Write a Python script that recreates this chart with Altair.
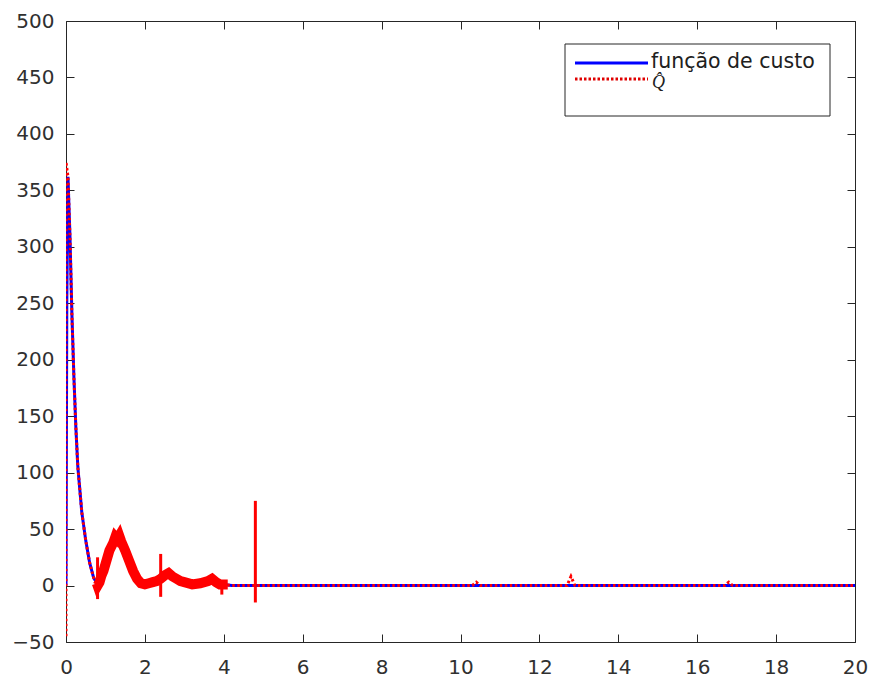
import altair as alt
import pandas as pd

# ---- data ----
blue_x = [0, 0.02, 0.05, 0.1, 0.15, 0.2, 0.25, 0.3, 0.4, 0.5, 0.6, 0.7, 0.8, 0.9, 1.0,
          1.1, 1.2, 1.3, 1.4, 1.5, 1.6, 1.7, 1.8, 1.9, 2.0, 2.2, 2.4, 2.6, 2.8, 3.0,
          3.2, 3.4, 3.6, 3.8, 4.0, 4.2, 6, 8, 10, 12, 14, 16, 18, 20]
blue_y = [0, 250, 362, 310, 240, 185, 140, 105, 65, 40, 20, 7, 1, 4, 15,
          27, 36, 40, 38, 31, 22, 13, 6, 2, 0, 1, 4, 8, 6, 3,
          1, 3, 5, 3, 1, 0, 0, 0, 0, 0, 0, 0, 0, 0]

red_x = [0, 0, 0.02, 0.05, 0.1, 0.15, 0.2, 0.25, 0.3, 0.4, 0.5, 0.6, 0.7, 0.8, 0.9, 1.0,
         1.1, 1.2, 1.3, 1.4, 1.5, 1.6, 1.7, 1.8, 1.9, 2.0, 2.2, 2.4, 2.6, 2.8, 3.0,
         3.2, 3.4, 3.6, 3.8, 4.0, 4.2, 6, 8, 10.3, 10.4, 10.5, 12.7, 12.8, 12.9,
         16.7, 16.8, 16.9, 20]
red_y = [-45, 375, 370, 362, 310, 240, 185, 140, 105, 65, 40, 20, 7, 1, 4, 15,
         27, 36, 40, 38, 31, 22, 13, 6, 2, 0, 1, 4, 8, 6, 3,
         1, 3, 5, 3, 1, 0, 0, 0, 0, 3, 0, 0, 8, 0,
         0, 3, 0, 0]

noise_x = [0.78, 0.8, 0.85, 0.9, 0.95, 1.0, 1.1, 1.2, 1.25, 1.3, 1.35, 1.4, 1.5, 1.6,
           1.7, 1.8, 1.9, 2.0, 2.1, 2.2, 2.3, 2.4, 2.5, 2.6, 2.7, 2.8, 2.9, 3.0,
           3.2, 3.4, 3.6, 3.7, 3.8, 3.9, 4.0, 4.1]
noise_y = [2, 0, 3, 9, 13, 19, 31, 38, 43, 41, 44, 39, 31, 22,
           13, 6, 2, 1, 2, 3, 4, 6, 9, 11, 8, 6, 4, 3,
           1, 2, 4, 6, 3, 1, 1, 1]

spike_x = [0.8, 2.4, 3.95, 4.8]
spike_lo = [-12, -10, -8, -15]
spike_hi = [25, 28, 3, 75]

x_ticks = list(range(0, 21, 2))
y_ticks = list(range(-50, 501, 50))

legend_labels = ["função de custo", "Q\u0302"]

blue_df = pd.DataFrame({"x": blue_x, "y": blue_y})
red_df = pd.DataFrame({"x": red_x, "y": red_y})
noise_df = pd.DataFrame({"x": noise_x, "y": noise_y})
spike_df = pd.DataFrame({"x": spike_x, "lo": spike_lo, "hi": spike_hi})
one = pd.DataFrame({"k": [0]})

W, H = 789, 621
BLUE = "#0000ff"
RED = "#ff0000"
TXT = "#303030"
FONT = "DejaVu Sans"

xs = alt.Scale(domain=[0, 20], nice=False, zero=False)
ys = alt.Scale(domain=[-50, 500], nice=False, zero=False)

def ax_x(orient, labels):
    return alt.Axis(orient=orient, values=x_ticks, labels=labels, title=None, grid=False,
                    domain=False, tickSize=8, offset=-8, tickColor="#262626",
                    labelFont=FONT, labelFontSize=20, labelColor=TXT, labelPadding=15,
                    labelFlush=False)

def ax_y(orient, labels):
    return alt.Axis(orient=orient, values=y_ticks, labels=labels, title=None, grid=False,
                    domain=False, tickSize=8, offset=-8, tickColor="#262626",
                    labelFont=FONT, labelFontSize=20, labelColor=TXT, labelPadding=12)

blue = alt.Chart(blue_df).mark_line(color=BLUE, strokeWidth=3, clip=True).encode(
    x=alt.X("x:Q", scale=xs, axis=ax_x("bottom", True)),
    y=alt.Y("y:Q", scale=ys, axis=ax_y("left", True)),
)

frame = alt.Chart(blue_df).mark_line(opacity=0).encode(
    x=alt.X("x:Q", scale=xs, axis=ax_x("top", False)),
    y=alt.Y("y:Q", scale=ys, axis=ax_y("right", False)),
)

noise = alt.Chart(noise_df).mark_line(color=RED, strokeWidth=10, clip=True,
                                      strokeJoin="miter", strokeCap="butt").encode(
    x=alt.X("x:Q", scale=xs, axis=None),
    y=alt.Y("y:Q", scale=ys, axis=None),
)

red = alt.Chart(red_df).mark_line(color=RED, strokeWidth=3, strokeDash=[2.5, 2.5],
                                  clip=True).encode(
    x=alt.X("x:Q", scale=xs, axis=None),
    y=alt.Y("y:Q", scale=ys, axis=None),
)

spikes = alt.Chart(spike_df).mark_rule(color=RED, strokeWidth=3, clip=True).encode(
    x=alt.X("x:Q", scale=xs, axis=None),
    y=alt.Y("lo:Q", scale=ys, axis=None),
    y2="hi:Q",
)

# ---- legend (drawn by hand to match the MATLAB box) ----
leg_box = alt.Chart(one).mark_rect(fill="white", stroke="#262626", strokeWidth=1).encode(
    x=alt.value(499), x2=alt.value(764), y=alt.value(23), y2=alt.value(95))
leg_blue = alt.Chart(one).mark_rule(color=BLUE, strokeWidth=3).encode(
    x=alt.value(509), x2=alt.value(582), y=alt.value(42))
leg_red = alt.Chart(one).mark_rule(color="#e00000", strokeWidth=3,
                                   strokeDash=[2.5, 2]).encode(
    x=alt.value(509), x2=alt.value(582), y=alt.value(58))
leg_t1 = alt.Chart(one).mark_text(text=legend_labels[0], align="left", baseline="middle",
                                  font=FONT, fontSize=20.5, color="#202020").encode(
    x=alt.value(585), y=alt.value(41))
leg_t2 = alt.Chart(one).mark_text(text=legend_labels[1], align="left", baseline="middle",
                                  font="Liberation Serif", fontStyle="italic",
                                  fontSize=18, color="#202020").encode(
    x=alt.value(586), y=alt.value(62))

chart = alt.layer(
    blue, frame, noise, red, spikes, leg_box, leg_blue, leg_red, leg_t1, leg_t2
).resolve_axis(x="independent", y="independent").properties(
    width=W, height=H,
    autosize=alt.AutoSizeParams(type="none"),
    padding={"left": 66, "top": 21, "right": 18, "bottom": 44},
    background="white",
).configure_view(stroke="#262626", strokeWidth=1)

chart.save("out.html", embed_options={"renderer": "svg", "actions": False})
